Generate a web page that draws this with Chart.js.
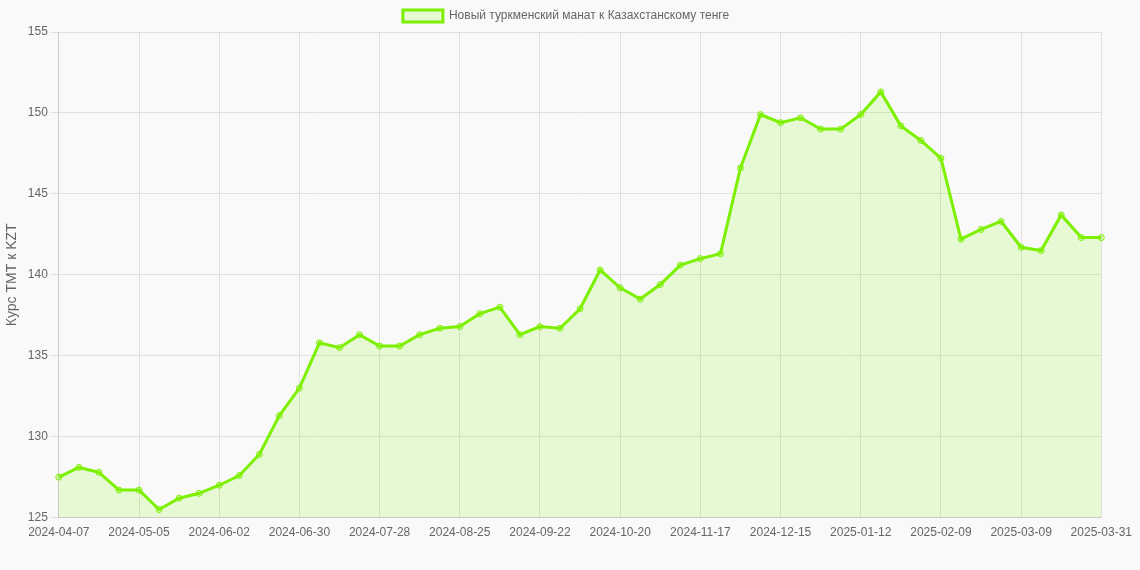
<!DOCTYPE html>
<html>
<head>
<meta charset="utf-8">
<script src="https://cdn.jsdelivr.net/npm/chart.js@4"></script>
<style>
  html, body { margin: 0; padding: 0; background: #f9f9f9; }
  #wrap { width: 1140px; height: 570px; }
</style>
</head>
<body>
<div id="wrap"><canvas id="chart"></canvas></div>
<script>
const seriesLabel = 'Новый туркменский манат к Казахстанскому тенге';
const axisTitle = 'Курс ТМТ к KZT';

// weekly dates, last one is 2025-03-31
const dates = [
    '2024-04-07','2024-04-14','2024-04-21','2024-04-28','2024-05-05','2024-05-12','2024-05-19','2024-05-26',
    '2024-06-02','2024-06-09','2024-06-16','2024-06-23','2024-06-30','2024-07-07','2024-07-14','2024-07-21',
    '2024-07-28','2024-08-04','2024-08-11','2024-08-18','2024-08-25','2024-09-01','2024-09-08','2024-09-15',
    '2024-09-22','2024-09-29','2024-10-06','2024-10-13','2024-10-20','2024-10-27','2024-11-03','2024-11-10',
    '2024-11-17','2024-11-24','2024-12-01','2024-12-08','2024-12-15','2024-12-22','2024-12-29','2025-01-05',
    '2025-01-12','2025-01-19','2025-01-26','2025-02-02','2025-02-09','2025-02-16','2025-02-23','2025-03-02',
    '2025-03-09','2025-03-16','2025-03-23','2025-03-30','2025-03-31'
];

const rates = [
    127.5, 128.1, 127.8, 126.7, 126.7, 125.5, 126.2, 126.5,
    127.0, 127.6, 128.9, 131.3, 133.0, 135.8, 135.5, 136.3,
    135.6, 135.6, 136.3, 136.7, 136.8, 137.6, 138.0, 136.3,
    136.8, 136.7, 137.9, 140.3, 139.2, 138.5, 139.4, 140.6,
    141.0, 141.3, 146.6, 149.9, 149.4, 149.7, 149.0, 149.0,
    149.9, 151.3, 149.2, 148.3, 147.2, 142.2, 142.8, 143.3,
    141.7, 141.5, 143.7, 142.3, 142.3
];

const green = '#7cf000';
const shown = i => i % 4 === 0 || i === dates.length - 1;

new Chart(document.getElementById('chart').getContext('2d'), {
    type: 'line',
    data: {
        labels: dates,
        datasets: [{
            label: seriesLabel,
            data: rates,
            borderColor: green,
            backgroundColor: 'rgba(124, 240, 0, 0.15)',
            borderWidth: 3,
            fill: true,
            tension: 0,
            pointRadius: 3,
            pointBorderWidth: 1,
            pointBackgroundColor: 'rgba(124, 240, 0, 0.2)',
            pointBorderColor: green
        }]
    },
    options: {
        responsive: true,
        maintainAspectRatio: false,
        animation: false,
        layout: { padding: { right: 8, bottom: 22 } },
        plugins: {
            legend: {
                labels: { color: '#666', font: { family: 'Arial, Liberation Sans', size: 12 } }
            },
            tooltip: { enabled: false }
        },
        scales: {
            x: {
                grid: {
                    color: ctx => (ctx.index === undefined || shown(ctx.index)) ? '#e0e0e0' : 'rgba(0,0,0,0)',
                    drawTicks: false
                },
                ticks: {
                    autoSkip: false,
                    maxRotation: 0,
                    padding: 8,
                    color: '#666',
                    font: { family: 'Arial, Liberation Sans', size: 12 },
                    callback: (value, i) => shown(i) ? dates[i] : ''
                }
            },
            y: {
                min: 125,
                max: 155,
                grid: { color: '#e0e0e0' },
                ticks: { stepSize: 5, color: '#666', font: { family: 'Arial, Liberation Sans', size: 12 } },
                title: {
                    display: true,
                    text: axisTitle,
                    color: '#666',
                    font: { family: 'Arial, Liberation Sans', size: 14 }
                }
            }
        }
    }
});
</script>
</body>
</html>
